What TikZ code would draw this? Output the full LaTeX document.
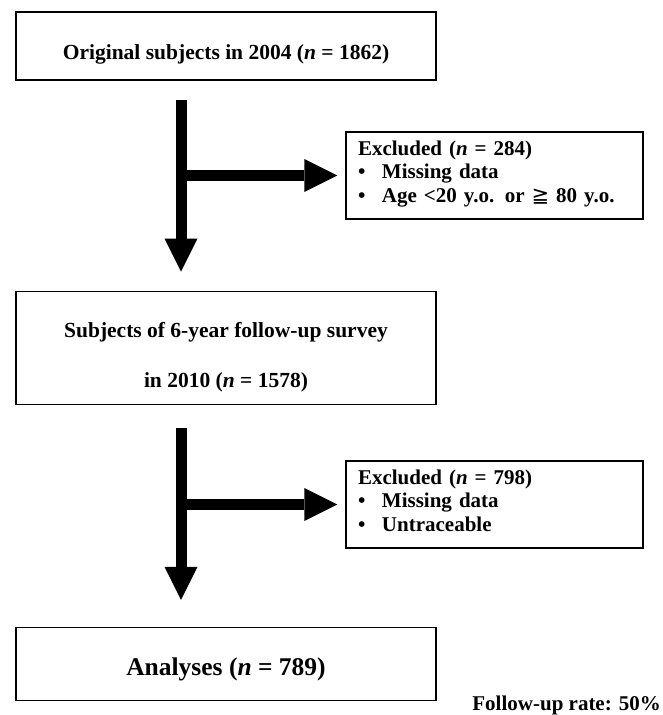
\documentclass[tikz,border=0pt]{standalone}
\usepackage{fontspec}
\setmainfont{Liberation Serif}
\newfontfamily\symfont{DejaVu Sans}
\usetikzlibrary{positioning, arrows.meta}

\begin{document}
\begin{tikzpicture}[
    x=1pt, y=1pt,
    mainbox/.style = {draw, line width=1.2pt, minimum width=420pt, inner sep=0pt, align=center,
                      font=\fontsize{21.5}{26}\selectfont\bfseries},
    exclbox/.style = {draw, line width=1.2pt, minimum height=87pt, text width=273pt, inner xsep=12pt,
                      text height=15pt, text depth=56pt,
                      align=left, font=\fontsize{21}{23.5}\selectfont\bfseries},
    bigarrow/.style = {line width=11pt, -{Triangle[length=33pt, width=33pt, line width=0pt]}},
    node distance = 210pt
  ]
  \useasboundingbox (0,0) rectangle (662,-715);

  \node[mainbox, minimum height=68pt, text height=26pt, text depth=0pt] (box1) at (226,-46)
    {Original subjects in 2004 (\textit{n} = 1862)};
  \node[mainbox, minimum height=113pt, text height=79pt, text depth=0pt,
        font=\fontsize{21.5}{50}\selectfont\bfseries] (box2) [below = of box1]
    {Subjects of 6-year follow-up survey\\in 2010 (\textit{n} = 1578)};
  \node[mainbox, minimum height=73pt, text height=24pt, text depth=1pt,
        font=\fontsize{25.5}{30}\selectfont\bfseries] (box3) [below = 222pt of box2]
    {Analyses (\textit{n} = 789)};

  \node[exclbox] (excl1) at (494.5,-175.5)
    {Excluded (\textit{n} = 284)\\
     \makebox[24pt][l]{\textbullet}Missing data\\
     \makebox[24pt][l]{\textbullet}Age <20 y.o. or {\symfont\mdseries ≧} 80 y.o.};
  \node[exclbox] (excl2) at (494.5,-504.5)
    {Excluded (\textit{n} = 798)\\
     \makebox[24pt][l]{\textbullet}Missing data\\
     \makebox[24pt][l]{\textbullet}Untraceable};

  \node[anchor=base east, inner sep=0pt, font=\fontsize{21}{24}\selectfont\bfseries] (rate) at (661,-710)
    {Follow-up rate: 50\%};

  \coordinate (s1) at ([xshift=-45pt]box1.south);
  \coordinate (e1) at ([xshift=-45pt]box2.north);
  \coordinate (s2) at ([xshift=-45pt]box2.south);
  \coordinate (e2) at ([xshift=-45pt]box3.north);

  \draw[bigarrow, shorten <=19pt, shorten >=19pt] (s1) -- (e1);
  \draw[bigarrow, shorten >=8pt] (s1 |- excl1.west) -- (excl1.west);
  \draw[bigarrow, shorten <=23pt, shorten >=27pt] (s2) -- (e2);
  \draw[bigarrow, shorten >=8pt] (s2 |- excl2.west) -- (excl2.west);
\end{tikzpicture}
\end{document}
